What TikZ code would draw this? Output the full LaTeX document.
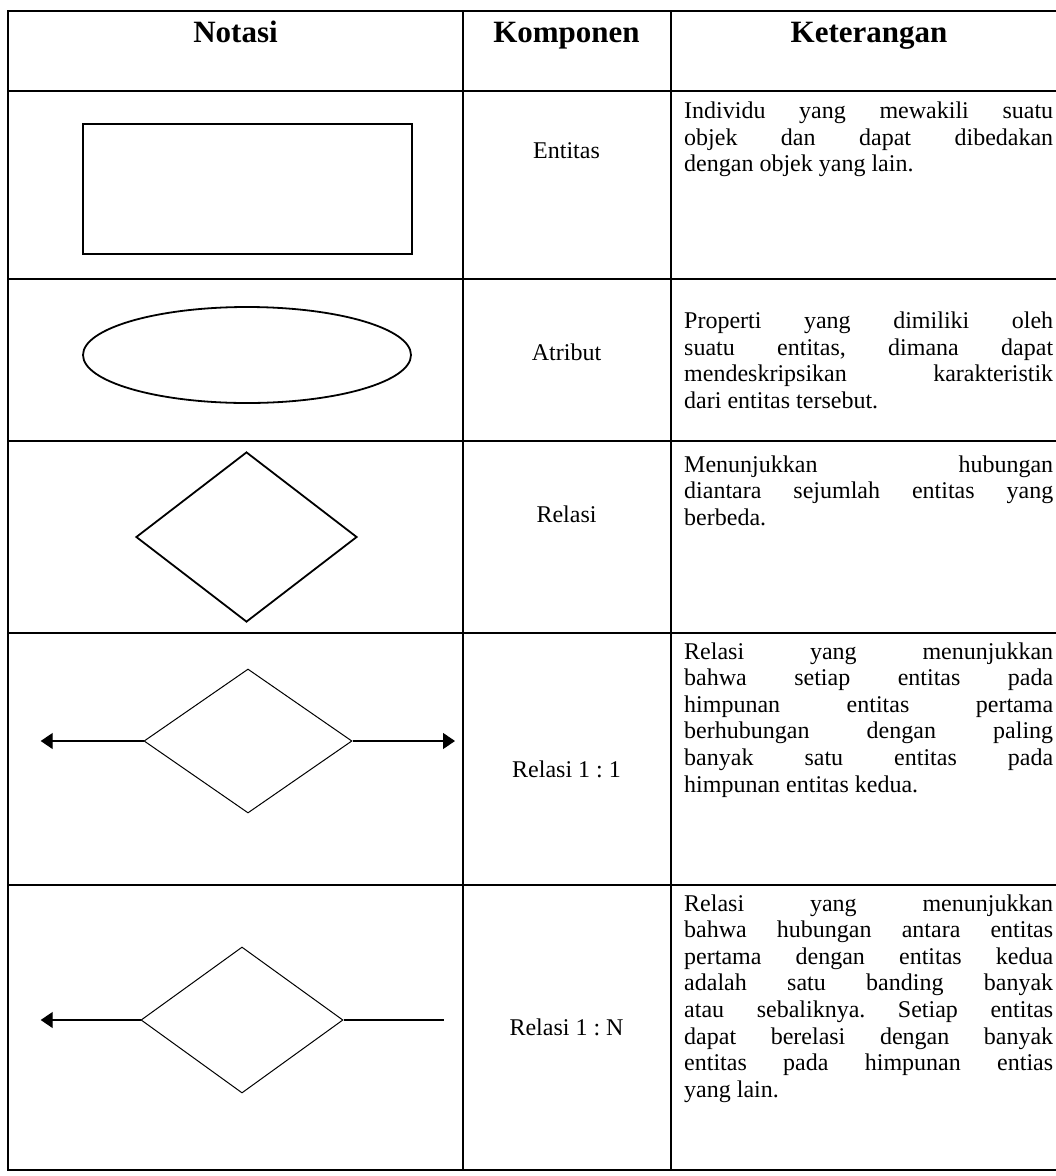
\documentclass[tikz,border=0pt]{standalone}
\usepackage{fontspec}
\setmainfont{Liberation Serif}
\usetikzlibrary{shapes.geometric,arrows.meta}
\frenchspacing
\newlength\kw \setlength\kw{369pt}
\newcommand\jline[1]{\makebox[\kw][s]{#1}\\}
\newcommand\bodyfont{\fontsize{24}{26.6}\selectfont}
\begin{document}
\begin{tikzpicture}[x=1pt,y=-1pt,
  grid/.style={line width=2pt,line cap=rect},
  head/.style={font=\fontsize{31}{36}\selectfont\bfseries,anchor=base,inner sep=0pt},
  comp/.style={font=\bodyfont,anchor=base,inner sep=0pt},
  desc/.style={anchor=base west,inner sep=0pt},
  thick shape/.style={draw,line width=1.8pt,inner sep=0pt},
  thin shape/.style={draw,line width=1pt,inner sep=0pt},
  conn/.style={line width=1.3pt,-{Triangle[length=12pt,width=16pt]}}]
\useasboundingbox (0,0) rectangle (1056,1176);
% table grid
\foreach \y in {11,90.5,279,441,633,885,1170} \draw[grid] (8,\y) -- (1056,\y);
\foreach \x in {8,462.5,670.5} \draw[grid] (\x,11) -- (\x,1170);
% header
\node[head] (h1) at (235.5,42) {Notasi};
\node[head] (h2) at (566.5,42) {Komponen};
\node[head] (h3) at (869,42) {Keterangan};
% notations
\node[thick shape,rectangle,minimum width=329pt,minimum height=130pt] (ent) at (247.2,188.7) {};
\node[thick shape,ellipse,minimum width=328pt,minimum height=96pt] (att) at (247,355) {};
\node[thick shape,diamond,minimum width=221pt,minimum height=170pt] (rel) at (246.5,537) {};
\node[thin shape,diamond,minimum width=208pt,minimum height=144pt] (r11) at (248,741) {};
\coordinate (r11l) at (40.7,741);
\coordinate (r11r) at (455,741);
\draw[conn] (r11.west) -- (r11l);
\draw[conn] (r11.east) -- (r11r);
\node[thin shape,diamond,minimum width=202pt,minimum height=146pt] (r1n) at (242,1020) {};
\coordinate (r1nl) at (40.7,1020);
\coordinate (r1nr) at (444,1020);
\draw[conn] (r1n.west) -- (r1nl);
\draw[line width=1.3pt] (r1n.east) -- (r1nr);
% components
\node[comp] (c1) at (566.5,158) {Entitas};
\node[comp] (c2) at (566.5,360) {Atribut};
\node[comp] (c3) at (566.5,522) {Relasi};
\node[comp] (c4) at (566.5,777) {Relasi 1 : 1};
\node[comp] (c5) at (566.5,1035) {Relasi 1 : N};
% descriptions
\node[desc] (k1) at (684,118.5) {\parbox[t]{\kw}{\bodyfont
  \jline{Individu yang mewakili suatu}
  \jline{objek dan dapat dibedakan}
  dengan objek yang lain.}};
\node[desc] (k2) at (684,328.5) {\parbox[t]{\kw}{\bodyfont
  \jline{Properti yang dimiliki oleh}
  \jline{suatu entitas, dimana dapat}
  \jline{mendeskripsikan karakteristik}
  dari entitas tersebut.}};
\node[desc] (k3) at (684,472) {\parbox[t]{\kw}{\bodyfont
  \jline{Menunjukkan hubungan}
  \jline{diantara sejumlah entitas yang}
  berbeda.}};
\node[desc] (k4) at (684,659) {\parbox[t]{\kw}{\bodyfont
  \jline{Relasi yang menunjukkan}
  \jline{bahwa setiap entitas pada}
  \jline{himpunan entitas pertama}
  \jline{berhubungan dengan paling}
  \jline{banyak satu entitas pada}
  himpunan entitas kedua.}};
\node[desc] (k5) at (684,911) {\parbox[t]{\kw}{\bodyfont
  \jline{Relasi yang menunjukkan}
  \jline{bahwa hubungan antara entitas}
  \jline{pertama dengan entitas kedua}
  \jline{adalah satu banding banyak}
  \jline{atau sebaliknya. Setiap entitas}
  \jline{dapat berelasi dengan banyak}
  \jline{entitas pada himpunan entias}
  yang lain.}};
\end{tikzpicture}
\end{document}
